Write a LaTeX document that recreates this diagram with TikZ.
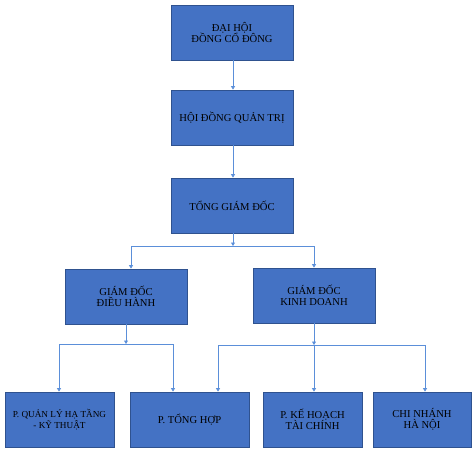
\documentclass[tikz,border=0pt]{standalone}
\usepackage{fontspec}
\setmainfont{Liberation Serif}
\usetikzlibrary{arrows.meta}
\definecolor{boxfill}{HTML}{4472C4}
\definecolor{boxline}{HTML}{2F528F}
\definecolor{conn}{HTML}{5B8FD9}
\tikzset{
  orgbox/.style={draw=boxline, line width=0.8pt, fill=boxfill, align=center,
    font=\fontsize{10.6}{11.2}\selectfont, text=black, inner sep=0pt},
  smalltext/.style={font=\fontsize{9.2}{11.2}\selectfont},
  link/.style={draw=conn, line width=0.7pt},
  arr/.style={link, -{Triangle[length=3.5pt,width=4pt]}}
}
\newcommand{\orgnode}[7][]{\node[orgbox, minimum width=#5pt, minimum height=#6pt, #1] (#2) at (#3,#4) {#7};}
\begin{document}
\begin{tikzpicture}[x=1pt,y=-1pt]
\useasboundingbox (0,0) rectangle (474,450);
\orgnode{dhcd}{232}{32.5}{122}{55}{ĐẠI HỘI\\ ĐỒNG CỔ ĐÔNG}
\orgnode{hdqt}{232}{117.5}{122}{55}{HỘI ĐỒNG QUẢN TRỊ}
\orgnode{tgd}{232}{205.5}{122}{55}{TỔNG GIÁM ĐỐC}
\orgnode{gddh}{126}{296.5}{122}{55}{GIÁM ĐỐC\\ ĐIỀU HÀNH}
\orgnode{gdkd}{314}{295.5}{122}{55}{GIÁM ĐỐC\\ KINH DOANH}
\orgnode[smalltext]{qlht}{59.5}{419.5}{109}{55}{P. QUẢN LÝ HẠ TẦNG\\ - KỸ THUẬT}
\orgnode{th}{189.5}{419.5}{119}{55}{P. TỔNG HỢP}
\orgnode{khtc}{312.5}{419.5}{99}{55}{P. KẾ HOẠCH\\ TÀI CHÍNH}
\orgnode{cnhn}{422}{419.5}{98}{55}{CHI NHÁNH\\ HÀ NỘI}
% junctions
\coordinate (j1) at (233,246);
\coordinate (j1l) at (131,246);
\coordinate (j1r) at (314,246);
\coordinate (j2) at (126,344);
\coordinate (j2l) at (59,344);
\coordinate (j2r) at (173,344);
\coordinate (j3) at (314,345);
\coordinate (j3l) at (218,345);
\coordinate (j3r) at (425,345);
% top chain
\draw[arr] (dhcd.south -| 233,0) -- (hdqt.north -| 233,0);
\draw[arr] (hdqt.south -| 233,0) -- (tgd.north -| 233,0);
\draw[arr] (tgd.south -| j1) -- (j1);
\draw[link] (j1l) -- (j1r);
\draw[arr] (j1l) -- (gddh.north -| j1l);
\draw[arr] (j1r) -- (gdkd.north -| j1r);
% left group
\draw[arr] (gddh.south -| j2) -- (j2);
\draw[link] (j2l) -- (j2r);
\draw[arr] (j2l) -- (qlht.north -| j2l);
\draw[arr] (j2r) -- (th.north -| j2r);
% right group
\draw[arr] (gdkd.south -| j3) -- (j3);
\draw[link] (j3l) -- (j3r);
\draw[arr] (j3l) -- (th.north -| j3l);
\draw[arr] (j3) -- (khtc.north -| j3);
\draw[arr] (j3r) -- (cnhn.north -| j3r);
\end{tikzpicture}
\end{document}
